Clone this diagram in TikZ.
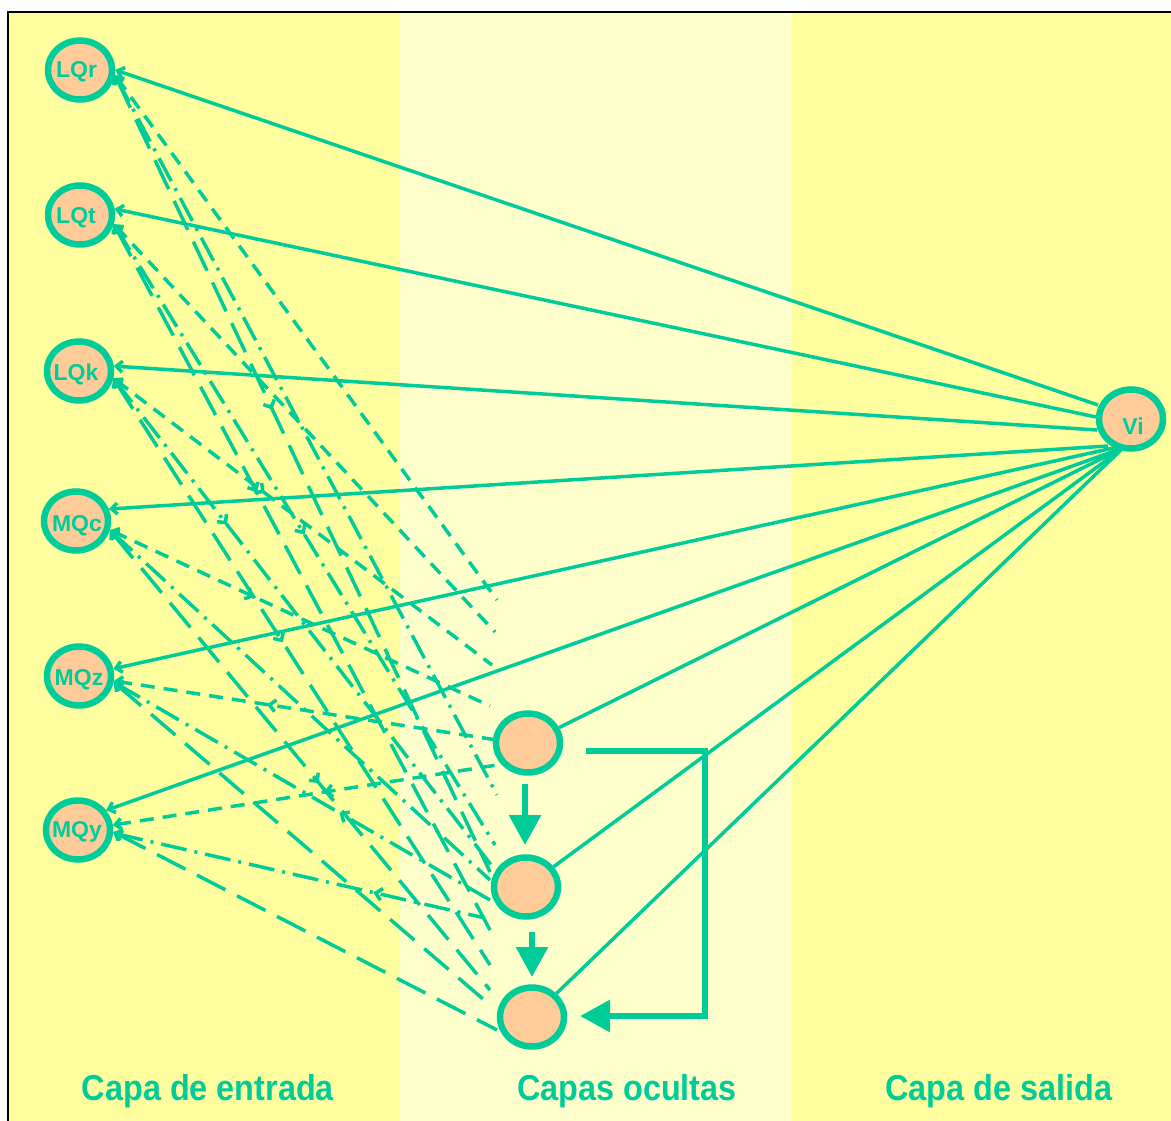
\documentclass[tikz,border=0pt]{standalone}
\usepackage{fontspec}
\setmainfont{Liberation Sans}
\usetikzlibrary{shapes.geometric,arrows.meta,decorations.markings}
\definecolor{grn}{HTML}{00CC99}
\definecolor{peach}{HTML}{FFCC99}
\definecolor{yel}{HTML}{FFFFA0}
\definecolor{lyel}{HTML}{FFFFCC}
\newcommand{\lablayer}[1]{\scalebox{0.9}[1]{#1}}
\tikzset{
 neuron/.style={ellipse, draw=grn, fill=peach, line width=6.5pt, minimum width=64pt, minimum height=59pt, inner sep=0pt},
 ntext/.style={text=grn, font=\fontsize{23}{25}\selectfont\bfseries, inner sep=0pt},
 conn/.style={draw=grn, line width=3.5pt},
 tipback/.style={{Straight Barb[length=6pt,width=11pt]}-},
 midfwd/.style={postaction={decorate}, decoration={markings, mark=at position #1 with {\arrow[line width=3.5pt]{Straight Barb[length=6pt,width=12pt]}}}},
 midback/.style={postaction={decorate}, decoration={markings, mark=at position #1 with {\arrowreversed[line width=3.5pt]{Straight Barb[length=6pt,width=12pt]}}}},
 sdash/.style={conn, tipback, dash pattern=on 14pt off 9pt},
 ddot/.style={conn, tipback, dash pattern=on 26pt off 8pt on 3pt off 8pt},
 ldash/.style={conn, tipback, dash pattern=on 32pt off 13pt},
 thickarrow/.style={draw=grn, line width=6pt, -{Triangle[length=30pt,width=31pt]}},
 layerlabel/.style={text=grn, font=\fontsize{36}{40}\selectfont\bfseries, inner sep=0pt}
}
\begin{document}
\begin{tikzpicture}[x=1pt,y=-1pt]
\useasboundingbox (0,0) rectangle (1171,1121);
% background bands
\fill[yel] (9,13) rectangle (400,1121);
\fill[lyel] (400,13) rectangle (792,1121);
\fill[yel] (792,13) rectangle (1171,1121);
\draw[line width=2pt] (8,1130) -- (8,12) -- (1180,12);

% input nodes
\node[neuron] (LQr) at (80,70) {};
\node[neuron] (LQt) at (80,215) {};
\node[neuron] (LQk) at (79,371) {};
\node[neuron] (MQc) at (76,521) {};
\node[neuron] (MQz) at (79,676) {};
\node[neuron] (MQy) at (78,830) {};
\node[ntext] (LQr-t) at (76.5,72) {LQr};
\node[ntext] (LQt-t) at (76,218) {LQt};
\node[ntext] (LQk-t) at (76,374) {LQk};
\node[ntext] (MQc-t) at (77,526) {MQc};
\node[ntext] (MQz-t) at (79,680) {MQz};
\node[ntext] (MQy-t) at (77,832) {MQy};
% hidden nodes
\node[neuron] (H1) at (528,743) {};
\node[neuron] (H2) at (526,887) {};
\node[neuron] (H3) at (532,1017) {};
% output node
\node[neuron] (Vi) at (1131,419) {};
\node[ntext] (Vitext) at (1133,426) {Vi};

% end points near hidden layer
\coordinate (rA) at (497,600); \coordinate (rB) at (497,795); \coordinate (rC) at (490,872);
\coordinate (tA) at (495,632); \coordinate (tB) at (495,845); \coordinate (tC) at (490,930);
\coordinate (kA) at (492,665); \coordinate (kB) at (492,866); \coordinate (kC) at (490,965);
\coordinate (cA) at (490,706); \coordinate (cB) at (490,880); \coordinate (cC) at (490,990);
\coordinate (zA) at (497,740); \coordinate (zB) at (490,900); \coordinate (zC) at (490,1005);
\coordinate (yA) at (497,765); \coordinate (yB) at (485,918); \coordinate (yC) at (497,1030);

% dashed connections
\draw[ldash, midfwd=0.42] (LQr.-8) -- (rC);
\draw[ddot]  (LQr.-8) -- (rB);
\draw[sdash] (LQr.-8) -- (rA);
\draw[ldash, midfwd=0.38] (LQt.-15) -- (tC);
\draw[ddot, midfwd=0.5]  (LQt.-15) -- (tB);
\draw[sdash] (LQt.-15) -- (tA);
\draw[ldash, midfwd=0.45] (LQk.-12) -- (kC);
\draw[ddot, midfwd=0.3]  (LQk.-12) -- (kB);
\draw[sdash, midfwd=0.4] (LQk.-12) -- (kA);
\draw[ldash, midfwd=0.55] (MQc.-15) -- (cC);
\draw[ddot]  (MQc.-15) -- (cB);
\draw[sdash, midfwd=0.38] (MQc.-15) -- (cA);
\draw[ldash] (MQz.-10) -- (zC);
\draw[ddot, midback=0.6]  (MQz.-10) -- (zB);
\draw[sdash, midback=0.4] (MQz.-8) -- (zA);
\draw[ldash] (MQy.-3) -- (yC);
\draw[ddot, midback=0.7]  (MQy.-5) -- (yB);
\draw[sdash, midback=0.55] (MQy.8) -- (yA);

% solid connections to output
\coordinate (v1) at (1098,405);
\coordinate (v2) at (1096,417);
\coordinate (v3) at (1097,430);
\coordinate (v4) at (1108,446);
\coordinate (v5) at (1118,447);
\coordinate (v6) at (1123,448);
\draw[conn,tipback] (LQr.east) -- (v1);
\draw[conn,tipback] (LQt.10) -- (v2);
\draw[conn,tipback] (LQk.8) -- (v3);
\draw[conn,tipback] (MQc.20) -- (v4);
\draw[conn,tipback] (MQz.12) -- (v5);
\draw[conn,tipback] (MQy.35) -- (v6);
\draw[conn] (H1) -- (v6);
\draw[conn] (H2) -- (v6);
\draw[conn] (H3) -- (v6);

% hidden layer arrows
\coordinate (a1s) at (525,784); \coordinate (a1e) at (525,845);
\coordinate (a2s) at (532,932); \coordinate (a2e) at (532,977);
\draw[thickarrow] (a1s) -- (a1e);
\draw[thickarrow] (a2s) -- (a2e);
\coordinate (fb0) at (586,751);
\coordinate (fb1) at (705,751);
\coordinate (fb2) at (705,1016);
\coordinate (fb3) at (580,1016);
\draw[thickarrow] (fb0) -- (fb1) -- (fb2) -- (fb3);

% layer labels
\node[layerlabel] (L1) at (208,1091) {\lablayer{Capa de entrada}};
\node[layerlabel] (L2) at (627,1091) {\lablayer{Capas ocultas}};
\node[layerlabel] (L3) at (999,1091) {\lablayer{Capa de salida}};
\end{tikzpicture}
\end{document}
